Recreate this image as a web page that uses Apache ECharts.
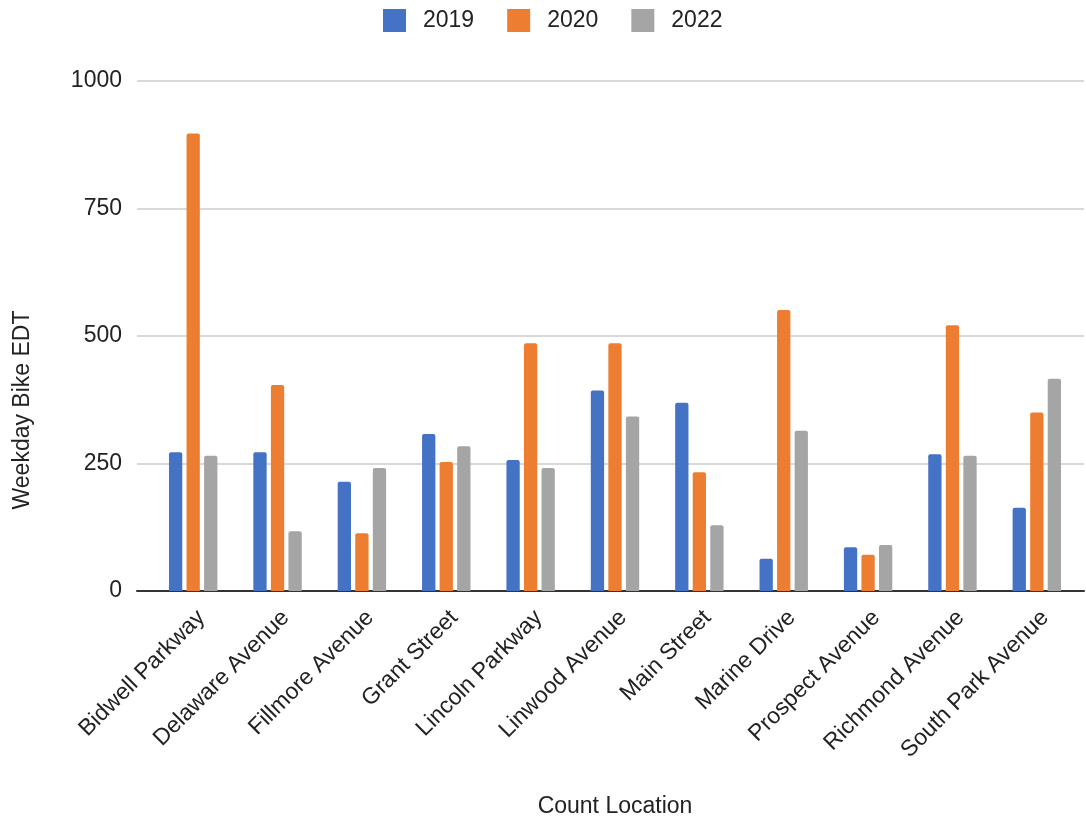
<!DOCTYPE html>
<html>
<head>
<meta charset="utf-8">
<script src="https://cdn.jsdelivr.net/npm/echarts@6/dist/echarts.min.js"></script>
<style>
html,body{margin:0;padding:0;background:#fff;}
#chart{width:1086px;height:819px;}
</style>
</head>
<body>
<div id="chart"></div>
<script>
const categories = ["Bidwell Parkway","Delaware Avenue","Fillmore Avenue","Grant Street","Lincoln Parkway","Linwood Avenue","Main Street","Marine Drive","Prospect Avenue","Richmond Avenue","South Park Avenue"];
const seriesNames = ["2019","2020","2022"];
const values2019 = [272,272,214,308,257,393,369,63,86,268,163];
const values2020 = [897,404,113,253,486,486,233,551,71,521,350];
const values2022 = [265,117,241,284,241,342,129,314,90,265,416];
const yTicks = [0,250,500,750,1000];

const FONT = '"Liberation Sans", Arial, sans-serif';
const FS = 23;
const colors = ['#4472c4','#ed7d31','#a5a5a5'];
const chart = echarts.init(document.getElementById('chart'), null, {renderer:'canvas'});
const valueSets = [values2019, values2020, values2022];

chart.setOption({
  animation:false,
  backgroundColor:'#ffffff',
  color: colors,
  textStyle:{fontFamily:FONT},
  legend:{
    data: seriesNames,
    left:383, top:9, padding:0,
    itemWidth:23, itemHeight:23, itemGap:33,
    icon:'rect',
    textStyle:{fontSize:FS, color:'#222', fontFamily:FONT, padding:[0,0,0,12]}
  },
  graphic:[{
    type:'text',
    x:23, y:410,
    rotation:Math.PI/2,
    style:{text:'Weekday Bike EDT', font:FS + 'px "Liberation Sans", Arial, sans-serif', fill:'#222', align:'center', verticalAlign:'middle'}
  }],
  grid:[
    {left:137, right:2, top:81, bottom:228, containLabel:false, outerBoundsMode:'none'},
    {left:151, width:928, top:81, bottom:228, containLabel:false, outerBoundsMode:'none'}
  ],
  xAxis:[
    {gridIndex:0, type:'value', min:0, max:1, show:true,
     axisLine:{show:true, onZero:false, lineStyle:{color:'#333', width:2}},
     axisTick:{show:false}, axisLabel:{show:false}, splitLine:{show:false}},
    {gridIndex:1, type:'category', data:categories,
     axisLine:{show:false}, axisTick:{show:false},
     axisLabel:{rotate:45, fontSize:FS, color:'#222', fontFamily:FONT, margin:15, interval:0, verticalAlign:'top'},
     name:'Count Location', nameLocation:'middle', nameGap:204,
     nameTextStyle:{fontSize:FS, color:'#222', fontFamily:FONT}}
  ],
  yAxis:[
    {gridIndex:0, type:'value', min:yTicks[0], max:yTicks[yTicks.length-1], interval:250,
     axisLine:{show:false}, axisTick:{show:false},
     axisLabel:{fontSize:FS, color:'#222', fontFamily:FONT, margin:15, formatter:(v)=>String(v)},
     splitLine:{lineStyle:{color:'#cccccc', width:1.5}}},
    {gridIndex:1, type:'value', min:yTicks[0], max:yTicks[yTicks.length-1], interval:250, show:false,
     splitLine:{show:false}}
  ],
  series: seriesNames.map((n,i)=>({
    name:n, type:'bar', xAxisIndex:1, yAxisIndex:1,
    data: valueSets[i],
    barWidth:13.3, barGap:'32%',
    itemStyle:{color:colors[i], borderRadius:[2,2,0,0]}
  }))
});
</script>
</body>
</html>
